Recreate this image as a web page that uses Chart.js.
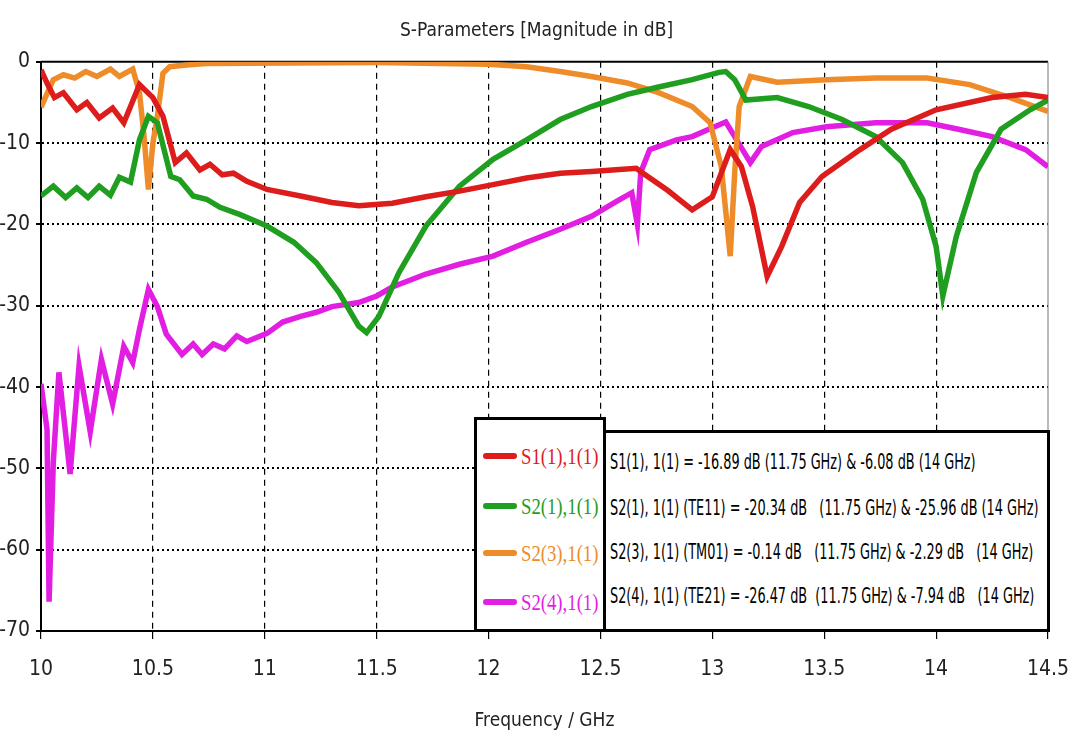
<!DOCTYPE html>
<html>
<head>
<meta charset="utf-8">
<title>S-Parameters</title>
<script src="https://cdn.jsdelivr.net/npm/chart.js@4.4.1/dist/chart.umd.min.js"></script>
<style>
  html, body { margin: 0; padding: 0; background: #fff; }
  #wrap { position: relative; width: 1073px; height: 738px; }
  #grafico { position: absolute; left: 0; top: 0; }
  .caixa { position: absolute; background: #fff; border: 3px solid #000; box-sizing: border-box; }
  #legenda { left: 474px; top: 417px; width: 132px; height: 215px; }
  #notas { left: 603px; top: 430px; width: 447px; height: 202px; }
  .item { position: absolute; left: 6px; height: 30px; display: flex; align-items: center; }
  .traco { width: 34px; height: 6px; border-radius: 3px; margin-right: 4px; }
  .nome { font-family: "Liberation Serif", serif; font-size: 24px; display: inline-block; transform: scaleX(0.78); transform-origin: left center; white-space: nowrap; }
  .linha { position: absolute; left: 4px; font-family: "DejaVu Sans Condensed", "DejaVu Sans", sans-serif; font-size: 22px; white-space: pre; transform: scaleX(0.65); transform-origin: left center; color: #000; }
</style>
</head>
<body>
<div id="wrap">
  <canvas id="grafico" width="1073" height="738"></canvas>
  <div id="legenda" class="caixa"></div>
  <div id="notas" class="caixa"></div>
</div>
<script>
// eixos
const xTicks = [10, 10.5, 11, 11.5, 12, 12.5, 13, 13.5, 14, 14.5];
const yTicks = [0, -10, -20, -30, -40, -50, -60, -70];

// S1(1),1(1)
const s11Freq = [10.00, 10.03, 10.06, 10.10, 10.16, 10.205, 10.26, 10.32, 10.37, 10.40, 10.44, 10.50, 10.545, 10.60, 10.65, 10.71, 10.755, 10.81, 10.86, 10.92, 11.01, 11.16, 11.30, 11.42, 11.57, 11.72, 11.87, 12.02, 12.17, 12.32, 12.46, 12.66, 12.69, 12.80, 12.91, 13.00, 13.08, 13.13, 13.18, 13.245, 13.31, 13.39, 13.49, 13.66, 13.80, 14.00, 14.25, 14.40, 14.50];
const s11Db = [-1.0, -2.8, -4.4, -3.8, -5.9, -5.0, -6.9, -5.7, -7.5, -5.5, -2.8, -4.4, -6.7, -12.4, -11.2, -13.3, -12.6, -13.9, -13.7, -14.7, -15.7, -16.5, -17.3, -17.7, -17.4, -16.6, -15.9, -15.1, -14.3, -13.7, -13.5, -13.1, -13.7, -15.8, -18.2, -16.6, -10.8, -12.9, -17.8, -26.4, -22.7, -17.3, -14.1, -10.8, -8.3, -5.9, -4.4, -4.0, -4.4];

// S2(1),1(1)
const s21Freq = [10.00, 10.055, 10.11, 10.16, 10.21, 10.26, 10.31, 10.35, 10.40, 10.44, 10.48, 10.52, 10.58, 10.62, 10.68, 10.74, 10.80, 10.89, 11.01, 11.13, 11.23, 11.33, 11.42, 11.455, 11.51, 11.60, 11.72, 11.87, 12.02, 12.17, 12.32, 12.46, 12.62, 12.76, 12.91, 13.03, 13.06, 13.10, 13.15, 13.29, 13.43, 13.58, 13.73, 13.85, 13.94, 14.00, 14.03, 14.09, 14.18, 14.29, 14.42, 14.50];
const s21Db = [-16.5, -15.3, -16.7, -15.5, -16.7, -15.3, -16.4, -14.2, -14.8, -9.6, -6.7, -7.5, -14.1, -14.5, -16.5, -16.9, -17.9, -18.8, -20.2, -22.2, -24.7, -28.3, -32.5, -33.3, -31.3, -25.9, -20.2, -15.3, -12.0, -9.6, -7.1, -5.5, -4.0, -3.1, -2.2, -1.3, -1.2, -2.2, -4.7, -4.4, -5.5, -7.1, -9.2, -12.4, -16.9, -22.7, -28.8, -21.5, -13.6, -8.3, -5.9, -4.7];

// S2(3),1(1)
const s23Freq = [10.00, 10.055, 10.10, 10.15, 10.20, 10.25, 10.31, 10.35, 10.41, 10.44, 10.46, 10.48, 10.50, 10.52, 10.545, 10.575, 10.65, 10.74, 11.50, 12.00, 12.17, 12.32, 12.46, 12.62, 12.76, 12.91, 12.99, 13.04, 13.08, 13.10, 13.12, 13.17, 13.29, 13.51, 13.73, 13.96, 14.15, 14.33, 14.50];
const s23Db = [-5.6, -2.2, -1.6, -2.0, -1.2, -1.8, -0.9, -1.8, -0.9, -3.8, -9.0, -15.7, -10.0, -6.7, -1.4, -0.6, -0.4, -0.2, -0.1, -0.3, -0.6, -1.2, -1.8, -2.6, -3.8, -5.5, -7.5, -12.9, -23.9, -13.6, -5.5, -1.8, -2.5, -2.2, -2.0, -2.0, -2.8, -4.4, -6.1];

// S2(4),1(1)
const s24Freq = [10.00, 10.027, 10.036, 10.055, 10.08, 10.13, 10.17, 10.22, 10.27, 10.32, 10.37, 10.41, 10.44, 10.48, 10.52, 10.56, 10.63, 10.68, 10.72, 10.77, 10.82, 10.875, 10.92, 11.01, 11.08, 11.16, 11.23, 11.30, 11.42, 11.50, 11.57, 11.72, 11.87, 12.02, 12.17, 12.32, 12.46, 12.57, 12.64, 12.665, 12.68, 12.72, 12.84, 12.91, 13.00, 13.06, 13.10, 13.17, 13.22, 13.36, 13.51, 13.73, 13.96, 14.10, 14.25, 14.40, 14.50];
const s24Db = [-39.6, -45.2, -66.4, -49.2, -38.2, -50.7, -37.4, -45.5, -36.6, -42.1, -35.0, -37.0, -32.9, -28.0, -30.1, -33.5, -36.0, -34.7, -36.0, -34.7, -35.3, -33.7, -34.4, -33.4, -32.0, -31.3, -30.8, -30.1, -29.6, -28.8, -27.7, -26.1, -24.9, -23.9, -22.2, -20.6, -19.0, -17.2, -16.1, -20.0, -13.6, -10.8, -9.6, -9.2, -8.1, -7.4, -9.2, -12.4, -10.4, -8.7, -8.0, -7.5, -7.5, -8.3, -9.2, -10.8, -12.9];

const series = [
  { nome: "S1(1),1(1)", cor: "#dd1c1c", freq: s11Freq, db: s11Db },
  { nome: "S2(1),1(1)", cor: "#1f9e1f", freq: s21Freq, db: s21Db },
  { nome: "S2(3),1(1)", cor: "#ef8c2a", freq: s23Freq, db: s23Db },
  { nome: "S2(4),1(1)", cor: "#e21ee2", freq: s24Freq, db: s24Db }
];

const notas = [
  "S1(1), 1(1) = -16.89 dB (11.75 GHz) & -6.08 dB (14 GHz)",
  "S2(1), 1(1) (TE11) = -20.34 dB   (11.75 GHz) & -25.96 dB (14 GHz)",
  "S2(3), 1(1) (TM01) = -0.14 dB   (11.75 GHz) & -2.29 dB   (14 GHz)",
  "S2(4), 1(1) (TE21) = -26.47 dB  (11.75 GHz) & -7.94 dB   (14 GHz)"
];

const fonteEixo = "'DejaVu Sans Condensed', 'DejaVu Sans', sans-serif";

const moldura = {
  id: "moldura",
  beforeDatasetsDraw(chart) {
    const { ctx, chartArea: a } = chart;
    ctx.save();
    ctx.strokeStyle = "#000";
    ctx.lineWidth = 2;
    ctx.beginPath();
    ctx.moveTo(a.left, a.top);
    ctx.lineTo(a.right, a.top);
    ctx.stroke();
    ctx.strokeStyle = "#777";
    ctx.lineWidth = 1;
    ctx.beginPath();
    ctx.moveTo(a.right, a.top);
    ctx.lineTo(a.right, a.bottom);
    ctx.stroke();
    ctx.restore();
  }
};

function corGrade(ticks) {
  return ctx => {
    const v = ctx.tick ? ctx.tick.value : null;
    return (v === ticks[0] || v === ticks[ticks.length - 1]) ? "rgba(0,0,0,0)" : "#000";
  };
}

new Chart(document.getElementById("grafico"), {
  type: "line",
  data: {
    datasets: series.map(s => ({
      label: s.nome,
      data: s.freq.map((f, i) => ({ x: f, y: s.db[i] })),
      borderColor: s.cor,
      backgroundColor: s.cor,
      borderWidth: 5.5,
      pointRadius: 0,
      tension: 0,
      fill: false
    }))
  },
  options: {
    responsive: false,
    animation: false,
    layout: { padding: { right: 0 } },
    plugins: {
      legend: { display: false },
      tooltip: { enabled: false },
      title: {
        display: true,
        text: "S-Parameters [Magnitude in dB]",
        color: "#222",
        font: { family: fonteEixo, size: 19, weight: "normal" },
        padding: { top: 20, bottom: 19 }
      }
    },
    scales: {
      x: {
        type: "linear",
        min: 10,
        max: 14.5,
        afterBuildTicks: scale => { scale.ticks = xTicks.map(v => ({ value: v })); },
        afterFit: scale => {
          scale.height = 107;
          scale.paddingLeft = 0;
          scale.paddingRight = 25;
        },
        border: { color: "#000", width: 2, dash: [6, 5] },
        grid: {
          color: corGrade(xTicks),
          lineWidth: 1.2,
          tickLength: 8,
          tickColor: "#000",
          tickBorderDash: [1, 0]
        },
        ticks: {
          color: "#222",
          padding: 18,
          maxRotation: 0,
          font: { family: fonteEixo, size: 21 },
          callback: v => String(v)
        },
        title: {
          display: true,
          text: "Frequency / GHz",
          color: "#222",
          font: { family: fonteEixo, size: 19 },
          padding: { top: 0, bottom: 6 }
        }
      },
      y: {
        min: -70,
        max: 0,
        afterBuildTicks: scale => { scale.ticks = yTicks.map(v => ({ value: v })); },
        afterFit: scale => { scale.width = 41; },
        border: { color: "#000", width: 2, dash: [2, 3] },
        grid: {
          color: corGrade(yTicks),
          lineWidth: 2,
          tickLength: 5,
          tickColor: "#000",
          tickBorderDash: [1, 0]
        },
        ticks: {
          color: "#222",
          padding: 6,
          font: { family: fonteEixo, size: 21 },
          callback: v => String(v)
        }
      }
    }
  },
  plugins: [moldura]
});

const legenda = document.getElementById("legenda");
series.forEach((s, i) => {
  const item = document.createElement("div");
  item.className = "item";
  item.style.top = [21, 71, 118, 167][i] + "px";
  item.innerHTML = `<span class="traco" style="background:${s.cor}"></span><span class="nome" style="color:${s.cor}">${s.nome}</span>`;
  legenda.appendChild(item);
});

const caixaNotas = document.getElementById("notas");
notas.forEach((t, i) => {
  const linha = document.createElement("div");
  linha.className = "linha";
  linha.style.top = [16, 62, 106, 150][i] + "px";
  linha.textContent = t;
  caixaNotas.appendChild(linha);
});
</script>
</body>
</html>
